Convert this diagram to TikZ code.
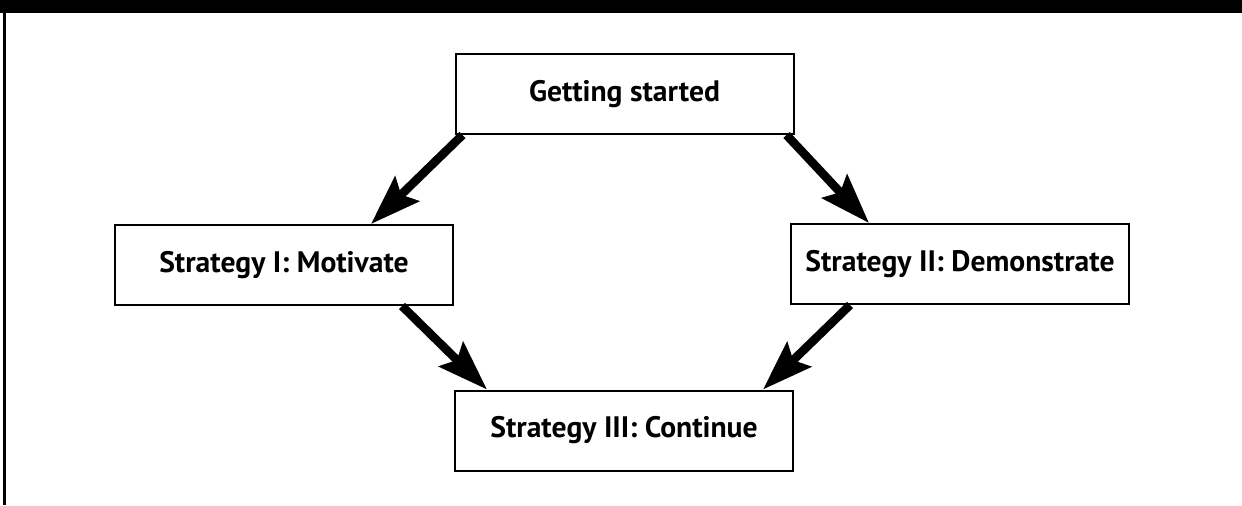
\documentclass[tikz,border=0pt]{standalone}
\usepackage{fontspec}
\setmainfont{PT Sans}
\usepackage{tikz}
\usetikzlibrary{positioning, arrows.meta, calc}

\begin{document}
\begin{tikzpicture}[
    x=0.5pt, y=-0.5pt,
    font=\fontsize{14.8}{17}\selectfont\bfseries,
    stage/.style={draw=black, line width=1pt, fill=white, minimum width=169pt,
                  minimum height=40pt, inner sep=0pt, align=center},
    flow/.style={-{Stealth[length=25pt, width=17pt, inset=4pt]},
                 line width=4.3pt, draw=black},
  ]
  \useasboundingbox (0,0) rectangle (1242,505);
  % ---- frame ----
  \fill[black] (0,0) rectangle (1242,13);
  \draw[line width=1.5pt] (4.5,13) -- (4.5,505);
  % ---- stages ----
  \node[stage] (start) at (624.5,94)  {Getting started};
  \node[stage] (motiv) at (284,265)   {Strategy I: Motivate};
  \node[stage] (demo)  at (960,264)   {Strategy II: Demonstrate};
  \node[stage] (cont)  at (624,430.5) {Strategy III: Continue};
  % ---- arrows ----
  \draw[flow] ($(start.south west)+(8,0)$) -- ($(motiv.north east)+(-83,0)$);
  \draw[flow] ($(start.south east)+(-8,0)$) -- ($(demo.north west)+(79,0)$);
  \draw[flow] ($(motiv.south east)+(-52,0)$) -- ($(cont.north west)+(33,0)$);
  \draw[flow] ($(demo.south west)+(60,0)$) -- ($(cont.north east)+(-31,0)$);
\end{tikzpicture}
\end{document}
